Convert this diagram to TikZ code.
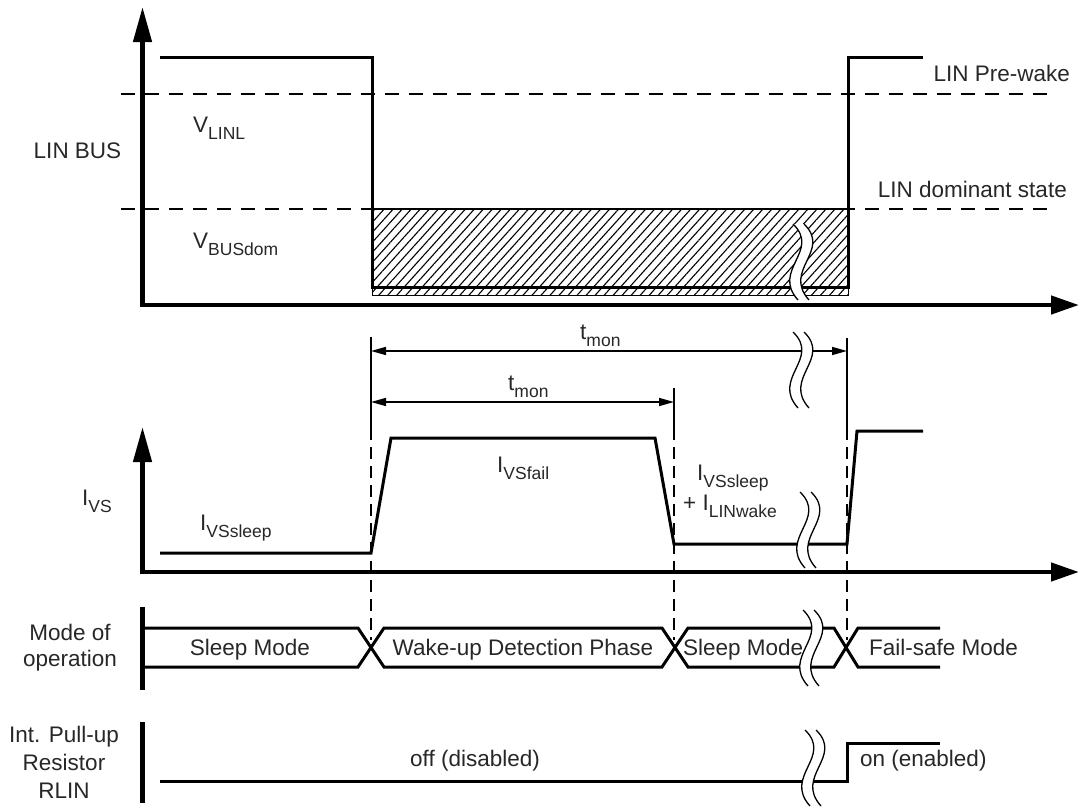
\documentclass[tikz,border=0pt]{standalone}
\usepackage{fontspec}
\setmainfont{Liberation Sans}
\usetikzlibrary{arrows.meta,patterns.meta}
\definecolor{txt}{RGB}{40,38,38}
\newcommand{\lsb}[1]{\raisebox{-7.5pt}{\fontsize{17.5}{18}\selectfont #1}}
\newcommand{\brkmark}[2]{%
  \begin{scope}[shift={(#1,#2)}]
    \fill[white] (0,0) .. controls (28,27) and (-22,46) .. (5,76) -- (16,76) .. controls (-11,46) and (39,27) .. (11,0) -- cycle;
    \draw[line width=1.3pt] (0,0) .. controls (28,27) and (-22,46) .. (5,76);
    \draw[line width=1.3pt] (11,0) .. controls (39,27) and (-11,46) .. (16,76);
  \end{scope}}
\begin{document}
\begin{tikzpicture}[x=1pt,y=-1pt,
  every node/.style={font=\fontsize{22.5}{27}\selectfont, text=txt, inner sep=0pt},
  axis/.style={line width=4.5pt, line join=miter, {Triangle[length=35pt,width=18pt]}-{Triangle[length=28pt,width=18pt]}},
  bar/.style={line width=4.5pt},
  sig/.style={line width=3pt, line join=miter},
  thinv/.style={line width=1.5pt},
  dashv/.style={line width=1.6pt, dash pattern=on 12pt off 7pt},
  dashh/.style={line width=1.7pt, dash pattern=on 14pt off 10pt},
  dim/.style={line width=1.5pt, {Triangle[length=15pt,width=8pt]}-{Triangle[length=15pt,width=8pt]}}]
\useasboundingbox (0,0) rectangle (1079,806);

% ---------- LIN BUS ----------
\draw[dashh] (121,93.7) -- (1050,93.7);
\draw[dashh] (121,209) -- (1055,209);
\fill[pattern={Lines[angle=48,distance=6.7pt,line width=1.1pt]}] (372,209) rectangle (848,295);
\draw[line width=1pt] (372,287) rectangle (848,295);
\draw[line width=2.5pt] (372,209) -- (848,209);
\draw[sig] (160,57) -- (372,57) -- (372,287) -- (848,287) -- (848,57) -- (923,57);
\draw[axis] (142.5,7) -- (142.5,305) -- (1079,305);
\brkmark{793}{224}

\node[anchor=base] (linbus) at (77.5,158) {LIN BUS};
\node[anchor=base west] (vlinl) at (193,132) {V\lsb{LINL}};
\node[anchor=base west] (vbusdom) at (193,248) {V\lsb{BUSdom}};
\node[anchor=base east] (prewake) at (1070,81) {LIN Pre-wake};
\node[anchor=base east] (domstate) at (1067,197) {LIN dominant state};

% ---------- t_mon ----------
\draw[thinv] (371,337) -- (371,428);
\draw[dashv] (371,428) -- (371,640);
\draw[thinv] (674,388) -- (674,428);
\draw[dashv] (674,428) -- (674,640);
\draw[thinv] (847,338) -- (847,428);
\draw[dashv] (847,428) -- (847,640);
\draw[dim] (371,351) -- (847,351);
\draw[dim] (371,402) -- (674,402);
\brkmark{793}{332}
\node[anchor=base west] (tmon1) at (580,339) {t\lsb{mon}};
\node[anchor=base west] (tmon2) at (508,390) {t\lsb{mon}};

% ---------- I_VS ----------
\draw[sig] (160,553) -- (371,553) -- (391,438) -- (655,438) -- (674,544) -- (847,544) -- (857,431) -- (923,431);
\draw[axis] (142.5,427) -- (142.5,572) -- (1079,572);
\brkmark{800}{492}
\node[anchor=base west] (ivs) at (82,505) {I\lsb{VS}};
\node[anchor=base west] (ivssleep) at (200,530) {I\lsb{VSsleep}};
\node[anchor=base west] (ivsfail) at (497,472) {I\lsb{VSfail}};
\node[anchor=base west] (ivssleep2) at (697,480) {I\lsb{VSsleep}};
\node[anchor=base west] (ilinwake) at (683,510) {+ I\lsb{LINwake}};

% ---------- Mode of operation ----------
\draw[bar] (142.5,607) -- (142.5,690);
\draw[sig] (142,628) -- (358,628) -- (384,667) -- (662,667) -- (688,628) -- (834,628) -- (858,667) -- (940,667);
\draw[sig] (142,667) -- (358,667) -- (384,628) -- (662,628) -- (688,667) -- (834,667) -- (858,628) -- (940,628);
\brkmark{803}{610}
\node[anchor=base] (mode1) at (70,640) {Mode of};
\node[anchor=base] (mode2) at (70,666) {operation};
\node[anchor=base] (sleep1) at (250,655) {Sleep Mode};
\node[anchor=base] (wake) at (523,655) {Wake-up Detection Phase};
\node[anchor=base west] (sleep2) at (683,655) {Sleep Mode};
\node[anchor=base west] (failsafe) at (869,655) {Fail-safe Mode};

% ---------- Pull-up ----------
\draw[bar] (142.5,722) -- (142.5,803);
\draw[sig] (160,781) -- (847,781) -- (847,743) -- (940,743);
\brkmark{805}{730}
\node[anchor=base] (pu1) at (64,742) {Int. Pull-up};
\node[anchor=base] (pu2) at (64,770) {Resistor};
\node[anchor=base] (pu3) at (64,798) {RLIN};
\node[anchor=base] (off) at (475,766) {off (disabled)};
\node[anchor=base west] (on) at (860,766) {on (enabled)};
\end{tikzpicture}
\end{document}
